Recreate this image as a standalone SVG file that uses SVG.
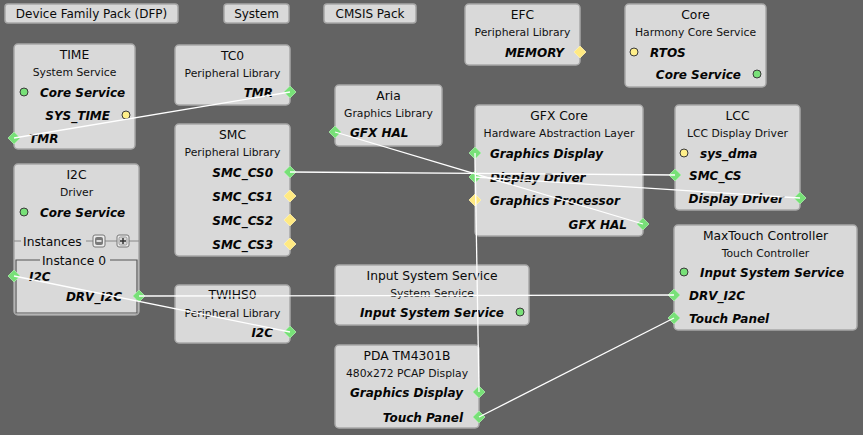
<svg xmlns="http://www.w3.org/2000/svg" width="863" height="435" viewBox="0 0 863 435">
<style>
.box{fill:#d9d9d9;stroke:#a8a8a8;stroke-width:1.5}
.btn{fill:#d9d9d9;stroke:#a8a8a8;stroke-width:1.5}
.t{font-family:"DejaVu Sans",Verdana,sans-serif;font-size:12.3px;fill:#0a0a0a;text-anchor:middle}
.bt{font-family:"DejaVu Sans",Verdana,sans-serif;font-size:12px;fill:#0a0a0a;text-anchor:middle}
.s{font-family:"DejaVu Sans",Verdana,sans-serif;font-size:10.8px;fill:#111;text-anchor:middle}
.p{font-family:"DejaVu Sans",Verdana,sans-serif;font-size:12px;font-weight:bold;font-style:italic;fill:#050505}
.e{text-anchor:end}
.gd{fill:#78e078;stroke:#a8eea8;stroke-width:0.8}
.yd{fill:#ffe982;stroke:#fff2b0;stroke-width:0.8}
.gc{fill:#78e078;stroke:#3a3a3a;stroke-width:1}
.yc{fill:#ffef8a;stroke:#3a3a3a;stroke-width:1}
.c{stroke:#ffffff;stroke-width:1.3;fill:none}
.fr{stroke:#555;stroke-width:1.2;fill:none}
.il{stroke:#888;stroke-width:1}
</style>
<defs>
<polygon id="dm" points="0,-6 6,0 0,6 -6,0"/>
</defs>
<rect width="863" height="435" fill="#636363"/>

<g id="btn-dfp"><rect class="btn" x="5" y="4" width="173" height="19" rx="3"/><text class="bt" x="91.5" y="18">Device Family Pack (DFP)</text></g>
<g id="btn-system"><rect class="btn" x="224" y="4" width="65" height="19" rx="3"/><text class="bt" x="256.5" y="18">System</text></g>
<g id="btn-cmsis"><rect class="btn" x="324" y="4" width="92" height="19" rx="3"/><text class="bt" x="370" y="18">CMSIS Pack</text></g>

<g id="node-time">
<rect class="box" x="14" y="44" width="121" height="105" rx="4"/>
<text class="t" x="74.5" y="58.5">TIME</text>
<text class="s" x="74.5" y="76">System Service</text>
<circle class="gc" cx="24" cy="92" r="4"/><text class="p" x="40" y="96.5">Core Service</text>
<circle class="yc" cx="126" cy="115" r="4"/><text class="p e" x="110" y="119.5">SYS_TIME</text>
<use href="#dm" class="gd" x="14" y="138"/><text class="p" x="29" y="142.5">TMR</text>
</g>

<g id="node-tc0">
<rect class="box" x="175" y="45" width="115" height="60" rx="4"/>
<text class="t" x="232.5" y="59.5">TC0</text>
<text class="s" x="232.5" y="77">Peripheral Library</text>
<use href="#dm" class="gd" x="290" y="92"/><text class="p e" x="273" y="96.5">TMR</text>
</g>

<g id="node-smc">
<rect class="box" x="175" y="124" width="115" height="132" rx="4"/>
<text class="t" x="232.5" y="138.5">SMC</text>
<text class="s" x="232.5" y="156">Peripheral Library</text>
<use href="#dm" class="gd" x="290" y="172"/><text class="p e" x="273" y="176.5">SMC_CS0</text>
<use href="#dm" class="yd" x="290" y="196"/><text class="p e" x="273" y="200.5">SMC_CS1</text>
<use href="#dm" class="yd" x="290" y="220"/><text class="p e" x="273" y="224.5">SMC_CS2</text>
<use href="#dm" class="yd" x="290" y="244"/><text class="p e" x="273" y="248.5">SMC_CS3</text>
</g>

<g id="node-i2c">
<rect class="box" x="14" y="164" width="125" height="151" rx="4"/>
<text class="t" x="76.5" y="178.5">I2C</text>
<text class="s" x="76.5" y="196">Driver</text>
<circle class="gc" cx="24" cy="212" r="4"/><text class="p" x="40" y="216.5">Core Service</text>
<line class="il" x1="14" y1="241" x2="21" y2="241"/>
<text class="t" x="23" y="245.5" style="text-anchor:start">Instances</text>
<line class="il" x1="86" y1="241" x2="93" y2="241"/>
<line class="il" x1="105" y1="241" x2="117" y2="241"/>
<line class="il" x1="129" y1="241" x2="139" y2="241"/>
<rect x="93" y="235" width="12" height="12" rx="2" fill="#ececec" stroke="#777"/>
<rect x="95" y="237" width="8" height="8" rx="2" fill="#7a7a7a"/>
<line x1="96.5" y1="241" x2="101.5" y2="241" stroke="#fff" stroke-width="1.5"/>
<rect x="117" y="235" width="12" height="12" rx="2" fill="#ececec" stroke="#777"/>
<rect x="119" y="237" width="8" height="8" rx="1.5" fill="#d8d8d8" stroke="#999"/>
<path d="M120,241H126M123,238V244" stroke="#333" stroke-width="1.5"/>
<path class="fr" d="M40,260H16V313H137V260H110"/>
<text class="t" x="74" y="264.5">Instance 0</text>
<use href="#dm" class="gd" x="14" y="276"/><text class="p" x="29" y="280.5">I2C</text>
<use href="#dm" class="gd" x="139" y="296"/><text class="p e" x="122" y="300.5">DRV_I2C</text>
</g>

<g id="node-twihs0">
<rect class="box" x="175" y="285" width="115" height="58" rx="4"/>
<text class="t" x="232.5" y="299">TWIHS0</text>
<text class="s" x="232.5" y="317">Peripheral Library</text>
<use href="#dm" class="gd" x="290" y="332"/><text class="p e" x="273" y="336.5">I2C</text>
</g>

<g id="node-aria">
<rect class="box" x="335" y="85" width="107" height="61" rx="4"/>
<text class="t" x="388.5" y="99.5">Aria</text>
<text class="s" x="388.5" y="117">Graphics Library</text>
<use href="#dm" class="gd" x="335" y="132"/><text class="p" x="350" y="136.5">GFX HAL</text>
</g>

<g id="node-efc">
<rect class="box" x="465" y="4" width="115" height="61" rx="4"/>
<text class="t" x="522.5" y="18.5">EFC</text>
<text class="s" x="522.5" y="36">Peripheral Library</text>
<use href="#dm" class="yd" x="580" y="52"/><text class="p e" x="564" y="56.5">MEMORY</text>
</g>

<g id="node-core">
<rect class="box" x="625" y="4" width="141" height="83" rx="4"/>
<text class="t" x="695.5" y="18.5">Core</text>
<text class="s" x="695.5" y="36">Harmony Core Service</text>
<circle class="yc" cx="634" cy="52" r="4"/><text class="p" x="650" y="56.5">RTOS</text>
<circle class="gc" cx="757" cy="74" r="4"/><text class="p e" x="741" y="78.5">Core Service</text>
</g>

<g id="node-gfxcore">
<rect class="box" x="475" y="105" width="168" height="131" rx="4"/>
<text class="t" x="559" y="119.5">GFX Core</text>
<text class="s" x="559" y="137">Hardware Abstraction Layer</text>
<use href="#dm" class="gd" x="475" y="153"/><text class="p" x="490" y="157.5">Graphics Display</text>
<use href="#dm" class="gd" x="475" y="177"/><text class="p" x="490" y="181.5">Display Driver</text>
<use href="#dm" class="yd" x="475" y="200"/><text class="p" x="490" y="204.5">Graphics Processor</text>
<use href="#dm" class="gd" x="643" y="224"/><text class="p e" x="627" y="228.5">GFX HAL</text>
</g>

<g id="node-lcc">
<rect class="box" x="675" y="105" width="125" height="105" rx="4"/>
<text class="t" x="737.5" y="119.5">LCC</text>
<text class="s" x="737.5" y="137">LCC Display Driver</text>
<circle class="yc" cx="684" cy="153" r="4"/><text class="p" x="700" y="157.5">sys_dma</text>
<use href="#dm" class="gd" x="675" y="175"/><text class="p" x="689" y="179.5">SMC_CS</text>
<use href="#dm" class="gd" x="800" y="198"/><text class="p e" x="784" y="202.5">Display Driver</text>
</g>

<g id="node-maxtouch">
<rect class="box" x="674" y="225" width="183" height="105" rx="4"/>
<text class="t" x="765.5" y="239.5">MaxTouch Controller</text>
<text class="s" x="765.5" y="257">Touch Controller</text>
<circle class="gc" cx="684" cy="272" r="4"/><text class="p" x="700" y="276.5">Input System Service</text>
<use href="#dm" class="gd" x="674" y="295"/><text class="p" x="689" y="299.5">DRV_I2C</text>
<use href="#dm" class="gd" x="674" y="318"/><text class="p" x="689" y="322.5">Touch Panel</text>
</g>

<g id="node-inputsys">
<rect class="box" x="335" y="265" width="194" height="60" rx="4"/>
<text class="t" x="432" y="279.5">Input System Service</text>
<text class="s" x="432" y="297">System Service</text>
<circle class="gc" cx="520" cy="312" r="4"/><text class="p e" x="504" y="316.5">Input System Service</text>
</g>

<g id="node-pda">
<rect class="box" x="335" y="345" width="144" height="83" rx="4"/>
<text class="t" x="407" y="359.5">PDA TM4301B</text>
<text class="s" x="407" y="377">480x272 PCAP Display</text>
<use href="#dm" class="gd" x="479" y="392"/><text class="p e" x="463" y="396.5">Graphics Display</text>
<use href="#dm" class="gd" x="479" y="417"/><text class="p e" x="463" y="421.5">Touch Panel</text>
</g>

<g id="connectors">
<line class="c" x1="14" y1="138" x2="290" y2="92"/>
<line class="c" x1="290" y1="172" x2="675" y2="175"/>
<line class="c" x1="335" y1="132" x2="643" y2="224"/>
<line class="c" x1="475" y1="177" x2="800" y2="198"/>
<line class="c" x1="475" y1="153" x2="479" y2="392"/>
<line class="c" x1="14" y1="276" x2="290" y2="332"/>
<line class="c" x1="139" y1="296" x2="674" y2="295"/>
<line class="c" x1="479" y1="417" x2="674" y2="318"/>
</g>
</svg>
